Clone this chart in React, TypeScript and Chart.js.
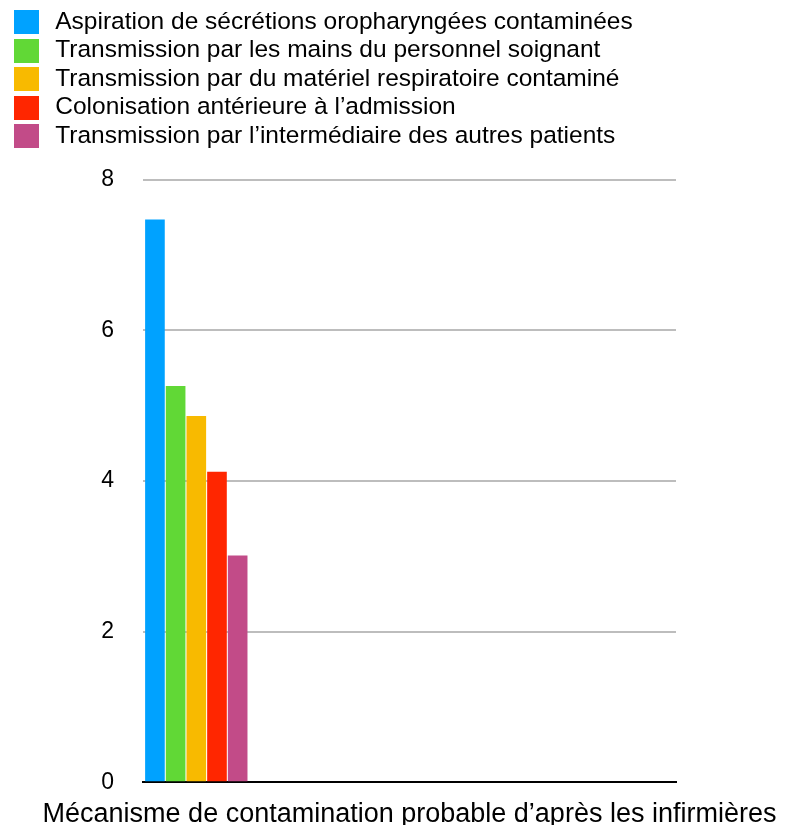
import React, { useEffect, useRef } from "react";
import { Chart, registerables } from "chart.js";

Chart.register(...registerables);

const categories = ["Mécanisme de contamination probable d’après les infirmières", "", "", "", ""];
const seriesNames = [
  "Aspiration de sécrétions oropharyngées contaminées",
  "Transmission par les mains du personnel soignant",
  "Transmission par du matériel respiratoire contaminé",
  "Colonisation antérieure à l’admission",
  "Transmission par l’intermédiaire des autres patients",
];
const seriesValues = [7.47, 5.26, 4.86, 4.12, 3.01];
const seriesColors = ["#00a2ff", "#61d836", "#f8ba00", "#ff2600", "#c24b88"];
const yTicks = [0, 2, 4, 6, 8];
const xTitle = "Mécanisme de contamination probable d’après les infirmières";

const FONT = "'Liberation Sans', Arial, Helvetica, sans-serif";
const LEGEND_SIZE = 24.5;
const TITLE_SIZE = 27;
const TICK_SIZE = 23;

function makeSwatch(color: string) {
  const c = document.createElement("canvas");
  c.width = 29;
  c.height = 24;
  const g = c.getContext("2d");
  if (g) {
    g.fillStyle = color;
    g.fillRect(0, 0, 25, 24);
  }
  return c;
}

export default function App() {
  const ref = useRef<HTMLCanvasElement | null>(null);

  useEffect(() => {
    if (!ref.current) return;
    const swatches = seriesColors.map(makeSwatch);
    const legendExtra = {
      id: "legendExtra",
      beforeInit(chart: any) {
        const lg = chart.legend;
        if (!lg) return;
        const orig = lg.fit;
        lg.fit = function () {
          orig.call(this);
          this.height = 173.75;
        };
      },
    };
    const xTitlePlugin = {
      id: "xTitlePlugin",
      afterDraw(chart: any) {
        const { ctx, chartArea } = chart;
        ctx.save();
        ctx.font = `${TITLE_SIZE}px ${FONT}`;
        ctx.fillStyle = "#000";
        ctx.textAlign = "center";
        ctx.textBaseline = "alphabetic";
        ctx.fillText(xTitle, (chartArea.left + chartArea.right) / 2, 822);
        ctx.restore();
      },
    };
    const chart = new Chart(ref.current, {
      type: "bar",
      data: {
        labels: categories,
        datasets: seriesNames.map((name, i) => ({
          label: name,
          data: [seriesValues[i]],
          backgroundColor: seriesColors[i],
          borderWidth: 0,
          categoryPercentage: 0.97,
          barPercentage: 0.95,
        })),
      },
      options: {
        animation: false,
        responsive: true,
        maintainAspectRatio: false,
        layout: { padding: { top: 5.75, left: 10, right: 110, bottom: 0 } },
        plugins: {
          tooltip: { enabled: false },
          legend: {
            position: "top",
            align: "start",
            labels: {
              usePointStyle: true,
              pointStyleWidth: 29,
              boxWidth: 25,
              boxHeight: 24,
              padding: 4,
              color: "#000",
              font: { family: FONT, size: LEGEND_SIZE },
              generateLabels(chart: any) {
                const items = Chart.defaults.plugins.legend.labels.generateLabels(chart);
                return items.map((it: any, i: number) => ({ ...it, pointStyle: swatches[i], lineWidth: 0 }));
              },
            },
          },
        },
        scales: {
          x: {
            grid: { display: false },
            border: { display: true, color: "#000", width: 2 },
            ticks: { display: false },
            title: { display: false },
            afterFit(scale: any) {
              scale.height = 39.5;
            },
          },
          y: {
            min: 0,
            max: 8,
            afterBuildTicks(scale: any) {
              scale.ticks = yTicks.map((v) => ({ value: v }));
            },
            grid: {
              drawTicks: false,
              lineWidth: 2,
              color: (ctx: any) => (ctx.tick && ctx.tick.value === 0 ? "rgba(0,0,0,0)" : "#bdbdbd"),
            },
            border: { display: false },
            ticks: {
              padding: 29,
              color: "#000",
              font: { family: FONT, size: TICK_SIZE },
            },
            afterFit(scale: any) {
              scale.width = 133;
            },
          },
        },
      },
      plugins: [legendExtra, xTitlePlugin],
    });
    return () => chart.destroy();
  }, []);

  return (
    <div style={{ position: "absolute", left: 0, top: 0, width: 786, height: 825, background: "#fff" }}>
      <canvas ref={ref} />
    </div>
  );
}
